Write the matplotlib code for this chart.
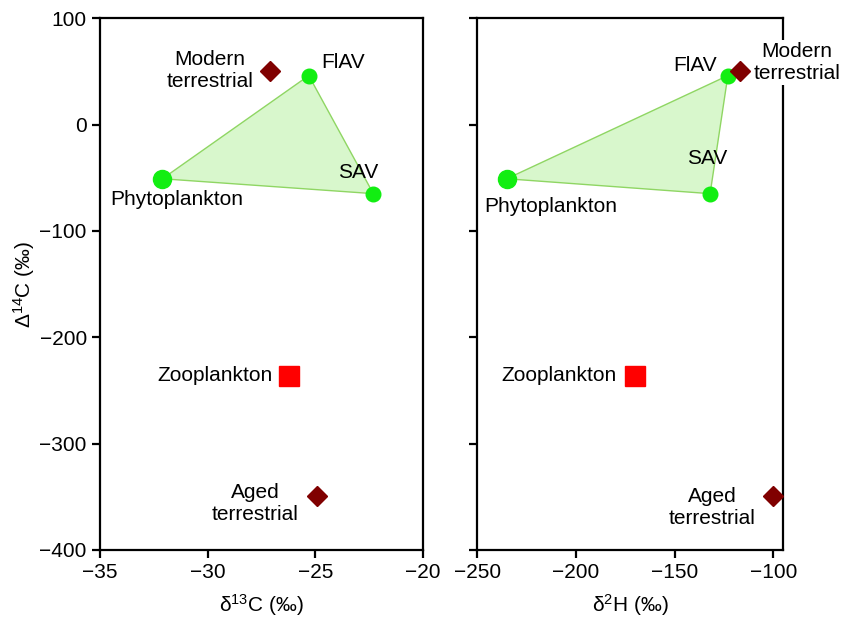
import matplotlib.pyplot as plt
from matplotlib.patches import Polygon

plt.rcParams['font.family'] = ['Liberation Sans', 'DejaVu Sans']
plt.rcParams['mathtext.fontset'] = 'custom'
plt.rcParams['mathtext.rm'] = 'Liberation Sans'
plt.rcParams['mathtext.default'] = 'rm'

# end members: d13C, d2H, D14C
groups = ["Phytoplankton", "FlAV", "SAV"]
d13c_plants = [-32.1, -25.3, -22.3]
d2h_plants = [-235, -123, -132]
d14c_plants = [-51, 46, -65]

d13c_zoo = -26.2
d2h_zoo = -170
d14c_zoo = -236

terr_labels = ["Modern\nterrestrial", "Aged\nterrestrial"]
d13c_terr = [-27.1, -24.9]
d2h_terr = [-117, -100]
d14c_terr = [50, -349]

green = "#12ee12"
fs = 15

fig = plt.figure(figsize=(8.43, 6.17), dpi=100)
ax1 = fig.add_axes([0.1186, 0.1086, 0.383, 0.862])
ax2 = fig.add_axes([0.566, 0.1086, 0.363, 0.862])


def draw(ax, xp, xz, xt, lab_off, zoo_off, terr_off):
    tri = Polygon(list(zip(xp, d14c_plants)), closed=True, facecolor="#d8f7cc",
                  edgecolor="#8fd663", lw=1, zorder=1)
    ax.add_patch(tri)
    ax.plot(xp[0], d14c_plants[0], "o", color=green, ms=13, mec=green, zorder=3)
    ax.plot(xp[1:], d14c_plants[1:], "o", color=green, ms=10.5, mec=green, ls="none", zorder=3)
    ax.plot(xz, d14c_zoo, "s", color="#ff0000", ms=15, mec="#ff0000", zorder=3)
    ax.plot(xt, d14c_terr, "D", color="#800000", ms=10, mec="#800000", ls="none", zorder=3)
    for i, g in enumerate(groups):
        dx, dy, ha = lab_off[i]
        ax.annotate(g, (xp[i], d14c_plants[i]), xytext=(dx, dy), textcoords="offset pixels",
                    ha=ha, va="center", fontsize=fs)
    ax.annotate("Zooplankton", (xz, d14c_zoo), xytext=zoo_off, textcoords="offset pixels",
                ha="right", va="center", fontsize=fs)
    for i, t in enumerate(terr_labels):
        dx, dy, ha = terr_off[i]
        ax.annotate(t, (xt[i], d14c_terr[i]), xytext=(dx, dy), textcoords="offset pixels",
                    ha=ha, va="center", multialignment="center", fontsize=fs,
                    annotation_clip=False, zorder=5,
                    bbox=dict(boxstyle="square,pad=0.1", fc="white", ec="none"))
    ax.set_ylim(-400, 100)
    ax.set_yticks([-400, -300, -200, -100, 0, 100])
    for s in ax.spines.values():
        s.set_linewidth(1.6)
    ax.tick_params(direction="out", length=6, width=1.6, labelsize=fs, top=False, right=False)


draw(ax1, d13c_plants, d13c_zoo, d13c_terr,
     [(14, -21, "center"), (12, 13, "left"), (-15, 21, "center")],
     (-17, 0),
     [(-17, 1, "right"), (-19, -8, "right")])
ax1.set_xlim(-35, -20)
ax1.set_xticks([-35, -30, -25, -20])
ax1.set_xlabel("δ$^{13}$C (‰)", fontsize=fs, labelpad=7)
ax1.set_ylabel("Δ$^{14}$C (‰)", fontsize=fs, labelpad=2)

draw(ax2, d2h_plants, d2h_zoo, d2h_terr,
     [(44, -28, "center"), (-11, 10, "right"), (-3, 35, "center")],
     (-18, 0),
     [(14, 9, "left"), (-18, -12, "right")])
ax2.set_xlim(-250, -95)
ax2.set_xticks([-250, -200, -150, -100])
ax2.set_yticklabels([])
ax2.set_xlabel("δ$^{2}$H (‰)", fontsize=fs, labelpad=7)

fig.savefig("out.png", dpi=100)
